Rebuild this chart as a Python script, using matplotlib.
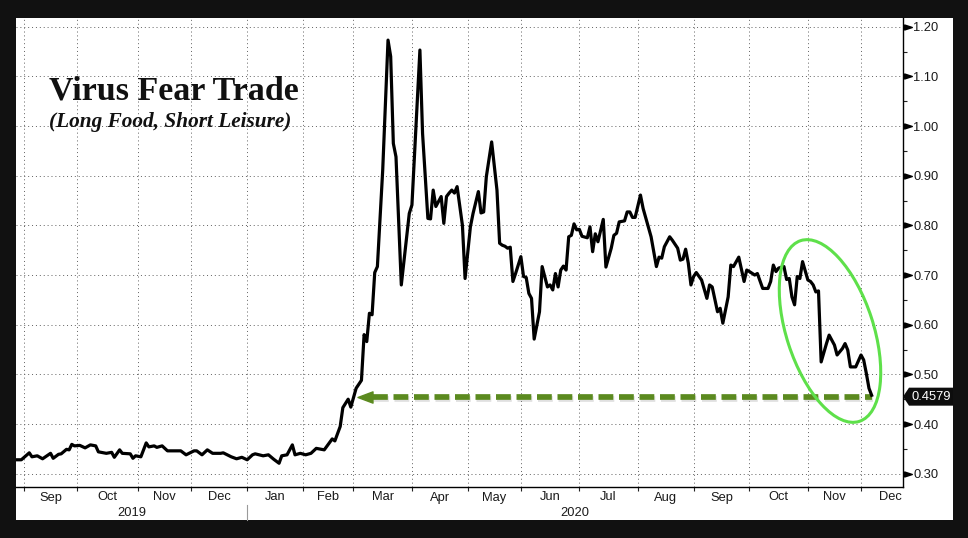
import numpy as np
import matplotlib
matplotlib.use("Agg")
import matplotlib.pyplot as plt
from matplotlib.patches import Rectangle, Ellipse, Polygon
from matplotlib.path import Path
from matplotlib.ticker import FixedLocator, NullFormatter
import matplotlib.patheffects as pe
import matplotlib.transforms as mtransforms

# ---------------- data ----------------
dates = [
    "2019-08-28", "2019-08-30", "2019-09-05", "2019-09-06", "2019-09-10", "2019-09-12",
    "2019-09-17", "2019-09-18", "2019-09-20", "2019-09-23", "2019-09-25", "2019-09-26",
    "2019-09-27", "2019-09-30", "2019-10-02", "2019-10-04", "2019-10-08", "2019-10-10",
    "2019-10-11", "2019-10-16", "2019-10-18", "2019-10-21", "2019-10-23", "2019-10-24",
    "2019-10-29", "2019-10-30", "2019-10-31", "2019-11-04", "2019-11-06", "2019-11-07",
    "2019-11-11", "2019-11-12", "2019-11-14", "2019-11-18", "2019-11-20", "2019-11-25",
    "2019-11-27", "2019-12-03", "2019-12-04", "2019-12-06", "2019-12-10", "2019-12-12",
    "2019-12-17", "2019-12-18", "2019-12-23", "2019-12-26", "2019-12-30",
    "2020-01-02", "2020-01-06", "2020-01-07", "2020-01-10", "2020-01-14", "2020-01-16",
    "2020-01-21", "2020-01-22", "2020-01-24", "2020-01-28", "2020-01-29", "2020-01-31",
    "2020-02-04", "2020-02-06", "2020-02-10", "2020-02-13", "2020-02-19", "2020-02-20",
    "2020-02-24", "2020-02-25", "2020-02-27", "2020-02-28",
    "2020-03-03", "2020-03-05", "2020-03-06", "2020-03-09", "2020-03-10", "2020-03-11",
    "2020-03-12", "2020-03-13", "2020-03-17", "2020-03-19", "2020-03-20", "2020-03-23",
    "2020-03-24", "2020-03-26", "2020-03-31",
    "2020-04-01", "2020-04-06", "2020-04-07", "2020-04-09", "2020-04-13", "2020-04-14",
    "2020-04-15", "2020-04-17", "2020-04-20", "2020-04-21", "2020-04-22", "2020-04-23",
    "2020-04-24", "2020-04-27", "2020-04-29", "2020-04-30",
    "2020-05-04", "2020-05-05", "2020-05-07", "2020-05-08", "2020-05-11", "2020-05-12",
    "2020-05-14", "2020-05-18", "2020-05-19", "2020-05-20", "2020-05-21", "2020-05-22",
    "2020-05-26", "2020-05-27", "2020-05-28",
    "2020-06-01", "2020-06-02", "2020-06-03", "2020-06-04", "2020-06-05", "2020-06-08",
    "2020-06-10", "2020-06-11", "2020-06-15", "2020-06-16", "2020-06-17", "2020-06-18",
    "2020-06-19", "2020-06-22", "2020-06-23", "2020-06-24", "2020-06-25", "2020-06-26",
    "2020-06-29", "2020-06-30",
    "2020-07-01", "2020-07-02", "2020-07-07", "2020-07-08", "2020-07-09", "2020-07-10",
    "2020-07-13", "2020-07-15", "2020-07-16", "2020-07-20", "2020-07-21", "2020-07-22",
    "2020-07-23", "2020-07-27", "2020-07-28", "2020-07-29", "2020-07-30", "2020-07-31",
    "2020-08-04", "2020-08-05", "2020-08-10", "2020-08-12", "2020-08-13", "2020-08-14",
    "2020-08-17", "2020-08-19", "2020-08-20", "2020-08-24", "2020-08-25", "2020-08-26",
    "2020-08-27", "2020-08-28", "2020-08-31",
    "2020-09-01", "2020-09-02", "2020-09-04", "2020-09-09", "2020-09-10", "2020-09-11",
    "2020-09-15", "2020-09-16", "2020-09-17", "2020-09-21", "2020-09-22", "2020-09-23",
    "2020-09-25", "2020-09-29", "2020-09-30",
    "2020-10-01", "2020-10-05", "2020-10-06", "2020-10-08", "2020-10-12", "2020-10-13",
    "2020-10-14", "2020-10-15", "2020-10-16", "2020-10-20", "2020-10-21", "2020-10-22",
    "2020-10-23", "2020-10-26", "2020-10-27", "2020-10-28", "2020-10-29",
    "2020-11-02", "2020-11-03", "2020-11-04", "2020-11-05", "2020-11-06", "2020-11-09",
    "2020-11-11", "2020-11-12", "2020-11-16", "2020-11-17", "2020-11-19", "2020-11-20",
    "2020-11-23", "2020-11-24", "2020-11-27",
    "2020-12-01", "2020-12-02", "2020-12-03", "2020-12-04", "2020-12-07",
]
values = [
    0.328, 0.328, 0.342, 0.334, 0.336, 0.330,
    0.341, 0.331, 0.339, 0.340, 0.349, 0.348,
    0.359, 0.356, 0.357, 0.352, 0.358, 0.356,
    0.344, 0.341, 0.343, 0.333, 0.348, 0.341,
    0.340, 0.331, 0.336, 0.334, 0.362, 0.354,
    0.356, 0.353, 0.356, 0.346, 0.346, 0.346,
    0.338, 0.346, 0.346, 0.338, 0.348, 0.341,
    0.341, 0.342, 0.334, 0.330, 0.333,
    0.328, 0.338, 0.340, 0.336, 0.338, 0.329,
    0.321, 0.336, 0.338, 0.358, 0.338, 0.341,
    0.338, 0.341, 0.351, 0.348, 0.370, 0.366,
    0.395, 0.433, 0.450, 0.434,
    0.472, 0.488, 0.580, 0.566, 0.623, 0.620,
    0.705, 0.717, 0.911, 1.173, 1.140, 0.965,
    0.938, 0.680, 0.824,
    0.841, 1.153, 0.985, 0.814, 0.813, 0.871,
    0.838, 0.858, 0.804, 0.858, 0.865, 0.871,
    0.865, 0.878, 0.800, 0.693,
    0.797, 0.824, 0.868, 0.825, 0.827, 0.898,
    0.968, 0.871, 0.764, 0.760, 0.758, 0.754,
    0.756, 0.687, 0.703,
    0.737, 0.697, 0.695, 0.663, 0.653, 0.571,
    0.626, 0.717, 0.676, 0.680, 0.670, 0.703,
    0.676, 0.710, 0.718, 0.710, 0.777, 0.780,
    0.803, 0.791,
    0.792, 0.778, 0.775, 0.797, 0.747, 0.783,
    0.767, 0.812, 0.716, 0.754, 0.780, 0.784,
    0.807, 0.809, 0.827, 0.827, 0.816, 0.816,
    0.861, 0.834, 0.777, 0.717, 0.736, 0.734,
    0.757, 0.777, 0.770, 0.754, 0.730, 0.732,
    0.752, 0.724, 0.680,
    0.697, 0.705, 0.690, 0.653, 0.680, 0.676,
    0.626, 0.633, 0.603, 0.656, 0.720, 0.717,
    0.736, 0.687, 0.710,
    0.707, 0.700, 0.703, 0.673, 0.673, 0.687,
    0.720, 0.707, 0.714, 0.717, 0.691, 0.693,
    0.656, 0.640, 0.697, 0.693, 0.727,
    0.690, 0.687, 0.680, 0.666, 0.668, 0.525,
    0.562, 0.579, 0.559, 0.539, 0.552, 0.562,
    0.549, 0.515, 0.515,
    0.539, 0.529, 0.502, 0.472, 0.4579,
]
# NYSE holidays (trading-day axis)
holidays = ["2019-09-02", "2019-11-28", "2019-12-25", "2020-01-01", "2020-01-20",
            "2020-02-17", "2020-04-10", "2020-05-25", "2020-07-03", "2020-09-07",
            "2020-11-26", "2020-12-25"]
month_starts = ["2019-09-01", "2019-10-01", "2019-11-01", "2019-12-01", "2020-01-01",
                "2020-02-01", "2020-03-01", "2020-04-01", "2020-05-01", "2020-06-01",
                "2020-07-01", "2020-08-01", "2020-09-01", "2020-10-01", "2020-11-01",
                "2020-12-01", "2021-01-01"]
month_labels = ["Sep", "Oct", "Nov", "Dec", "Jan", "Feb", "Mar", "Apr", "May", "Jun",
                "Jul", "Aug", "Sep", "Oct", "Nov", "Dec"]
year_labels = ["2019", "2020"]
year_break = "2020-01-01"
x_end_date = "2020-12-23"
y_ticks = [0.30, 0.40, 0.50, 0.60, 0.70, 0.80, 0.90, 1.00, 1.10, 1.20]
y_tick_labels = ["0.30", "0.40", "0.50", "0.60", "0.70", "0.80", "0.90", "1.00", "1.10", "1.20"]
y_minor = [0.35, 0.45, 0.55, 0.65, 0.75, 0.85, 0.95, 1.05, 1.15]
y_limits = (0.2732, 1.2175)
last_label = "0.4579"
title = "Virus Fear Trade"
subtitle = "(Long Food, Short Leisure)"

# ---------------- helpers ----------------
W, H = 968, 538
base = np.datetime64(dates[0])
hol = np.array(holidays, dtype="datetime64[D]")


def bidx(d):
    return np.busday_count(base, np.array(d, dtype="datetime64[D]"), holidays=hol)


def fx(px):
    return px / W


def fy(py):
    return 1 - py / H


x = bidx(dates).astype(float)
y = np.array(values)
mpos = bidx(month_starts).astype(float)

LABEL_FONT = dict(family="Liberation Sans", size=9.3, color="#1a1a1a")

fig = plt.figure(figsize=(W / 100, H / 100), dpi=100, facecolor="#111111")
fig.add_artist(Rectangle((fx(16), fy(520)), (953 - 16) / W, (520 - 18) / H,
                         transform=fig.transFigure, facecolor="white",
                         edgecolor="none", zorder=-5))

ax = fig.add_axes([fx(16), fy(487), 887 / W, 469 / H])
ax.set_facecolor("white")
ax.set_xlim(0, float(bidx(x_end_date)) - 0.2)
ax.set_ylim(*y_limits)

# spines
for s in ("top", "left"):
    ax.spines[s].set_visible(False)
for s in ("right", "bottom"):
    ax.spines[s].set_color("black")
    ax.spines[s].set_linewidth(1.0)

# x ticks at month boundaries
ax.xaxis.set_major_locator(FixedLocator(mpos[:-1]))
ax.xaxis.set_major_formatter(NullFormatter())
ax.tick_params(axis="x", which="major", direction="out", length=3, width=0.8,
               color="#222222")

# y ticks on the right
ax.yaxis.tick_right()
ax.yaxis.set_major_locator(FixedLocator(y_ticks))
ax.set_yticklabels(y_tick_labels, fontdict=LABEL_FONT)
ax.yaxis.set_minor_locator(FixedLocator(y_minor))
ax.tick_params(axis="y", which="major", length=0, pad=7.3, left=False, right=True)
ax.tick_params(axis="y", which="minor", length=3, width=0.8, direction="out",
               left=False, right=True, color="#222222")

# grid
ax.grid(True, which="major", axis="both", color="#606060", linewidth=0.7,
        linestyle=(0, (1, 3)))
ax.set_axisbelow(True)

# tick triangles
tri = Path([(-1, -0.65), (1, 0), (-1, 0.65), (-1, -0.65)],
           [Path.MOVETO, Path.LINETO, Path.LINETO, Path.CLOSEPOLY])
tri_tr = mtransforms.offset_copy(ax.get_yaxis_transform(), fig=fig, x=4.5, y=0,
                                 units="dots")
ax.plot([1.0] * len(y_ticks), y_ticks, linestyle="none", marker=tri, markersize=5.5,
        color="black", transform=tri_tr, clip_on=False, zorder=5)

# month labels
xtr = ax.get_xaxis_transform()
centers = (mpos[:-1] + mpos[1:]) / 2.0
for c, lab in zip(centers, month_labels):
    ax.text(c, -10.5 / 469, lab, transform=xtr, ha="center", va="center",
            clip_on=False, **LABEL_FONT)

# year labels
yb = float(bidx(year_break))
xl0, xl1 = ax.get_xlim()
for c, lab in zip([(xl0 + yb) / 2, (yb + xl1) / 2], year_labels):
    ax.text(c, -26.5 / 469, lab, transform=xtr, ha="center", va="center",
            clip_on=False, **LABEL_FONT)
ax.plot([yb, yb], [-18 / 469, -33 / 469], transform=xtr, color="#9a9a9a", lw=0.8,
        clip_on=False)

# main series
ax.plot(x, y, color="black", lw=2.3, solid_joinstyle="round", zorder=4)

# green dashed arrow back to the pre-crash level
lvl = values[-1] - 0.004
cross_i = int(np.argmax(y > values[-1]))
x_cross = x[cross_i - 1] + (values[-1] - y[cross_i - 1]) / (y[cross_i] - y[cross_i - 1]) * (x[cross_i] - x[cross_i - 1])
px_per_idx = 887.0 / (xl1 - xl0)
tip = x_cross + 3.5 / px_per_idx
head_w = 15.0 / px_per_idx
arrow_col = "#5b8a1f"
shadow = [pe.SimpleLineShadow(offset=(1.0, -1.6), shadow_color="#9a9a9a", alpha=0.3),
          pe.Normal()]
ax.plot([tip + head_w, x[-1]], [lvl, lvl], color=arrow_col, lw=4.1,
        dashes=(2.6, 1.0), dash_capstyle="butt", zorder=3, path_effects=shadow)
head = Path([(-1, 0), (1, -0.75), (1, 0.75), (-1, 0)],
            [Path.MOVETO, Path.LINETO, Path.LINETO, Path.CLOSEPOLY])
ax.plot([tip + head_w / 2], [lvl], marker=head, markersize=10.8, color=arrow_col,
        linestyle="none", zorder=3)

# last value tag
fig.canvas.draw()
_, yc = ax.transData.transform((0, values[-1]))
yc -= 1.4
sx = ax.transAxes.transform((1, 0))[0]
tag = [(sx, yc), (sx + 6, yc + 9), (953, yc + 9), (953, yc - 9), (sx + 6, yc - 9)]
inv = fig.transFigure.inverted()
tag_f = inv.transform(tag)
fig.add_artist(Polygon(tag_f, closed=True, transform=fig.transFigure,
                       facecolor="#0d0d0d", edgecolor="none", zorder=6))
fig.text((931.5) / W, yc / H, last_label, ha="center", va="center", color="white",
         family="Liberation Sans", size=9.3, zorder=7)

# highlight ellipse
fig.add_artist(Ellipse(xy=(8.30, (H - 331) / 100), width=1.90, height=0.87, angle=-72,
                       transform=fig.dpi_scale_trans, fill=False,
                       edgecolor="#5ee04a", linewidth=2.2, zorder=8))

# titles
fig.text(fx(49), fy(100), title, family="Liberation Serif", weight="bold", size=24.5,
         va="baseline", ha="left", color="#111111")
fig.text(fx(49), fy(127.5), subtitle, family="Liberation Serif", weight="bold",
         style="italic", size=15.3, va="baseline", ha="left", color="#111111")

fig.savefig("out.png", dpi=100, facecolor=fig.get_facecolor())
